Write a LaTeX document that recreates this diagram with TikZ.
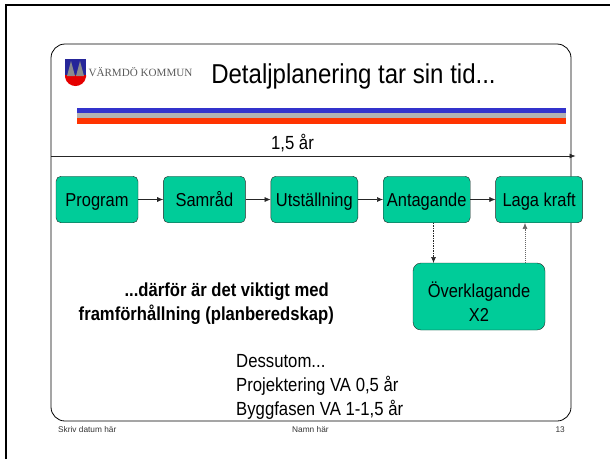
\documentclass[tikz,border=0pt]{standalone}
\usepackage{fontspec}
\setmainfont[FakeStretch=0.88]{Liberation Sans}
\newfontfamily\logofont{Liberation Serif}
\newfontfamily\footerfont{Liberation Sans}
\usetikzlibrary{positioning,arrows.meta}
\definecolor{etappgreen}{HTML}{00CC99}
\definecolor{stripeblue}{HTML}{3333CC}
\definecolor{stripegray}{HTML}{B2B2B2}
\definecolor{stripered}{HTML}{FF3300}

\begin{document}
\begin{tikzpicture}[x=1pt,y=-1pt,
      etapp/.style={draw=black!85, fill=etappgreen, rounded corners=5pt, minimum height=46.5pt, inner sep=0pt, text height=18pt, text depth=3.6pt, font=\fontsize{18.7}{24}\selectfont},
      flow/.style={draw=black!85, line width=0.6pt, -{Latex[length=6pt,width=5pt]}},
      textblock/.style={inner sep=0pt, font=\fontsize{19}{23.7}\selectfont},
      footer/.style={inner sep=0pt, text=black!80, font=\footerfont\fontsize{8.3}{10}\selectfont}]
    \useasboundingbox (0,0) rectangle (610,459);
    % outer frame and slide
    \draw[line width=2pt] (6,459) -- (6,5) -- (610,5);
    \draw[line width=0.8pt, rounded corners=14pt] (51,44) rectangle (571,421);
    % logo
    \fill[stripeblue!75!black] (65,59) -- (86,59) -- (86,75) -- (65,75) -- cycle;
    \fill[red!90!black] (65,75) -- (86,75) -- (86,77) .. controls (85,83) and (80,86) .. (75.5,86) .. controls (71,86) and (66,83) .. (65,77) -- cycle;
    \fill[black!45] (67,76) -- (71,61) -- (75,76) -- cycle;
    \fill[black!45] (76,76) -- (80,61) -- (84,76) -- cycle;
    \node[inner sep=0pt, text=black!65, font=\logofont\fontsize{11.1}{13}\selectfont] (kommun) at (140.5,72.5) {VÄRMDÖ KOMMUN};
    % title and stripes
    \node[inner sep=0pt, anchor=base, font=\fontsize{27.3}{32}\selectfont] (title) at (353.5,83) {Detaljplanering tar sin tid...};
    \fill[stripeblue] (77,108) rectangle (566,113);
    \fill[stripegray] (77,113) rectangle (566,118);
    \fill[stripered] (77,118) rectangle (566,123.5);
    % time line
    \coordinate (start) at (51,156);
    \coordinate (slut) at (575.5,156);
    \draw[flow] (start) -- (slut);
    \node[textblock, anchor=base] (tid) at (292.5,149) {1,5 år};
    % the steps
    \node[etapp, minimum width=82pt] (program) at (97,199.5) {Program};
    \node[etapp, minimum width=82pt, right=25pt of program] (samrad) {Samråd};
    \node[etapp, minimum width=87pt, right=25pt of samrad] (utstallning) {Utställning};
    \node[etapp, minimum width=87pt, right=25pt of utstallning] (antagande) {Antagande};
    \node[etapp, minimum width=87pt, right=25pt of antagande] (laga) {Laga kraft};
    \node[etapp, rounded corners=8pt, minimum width=132pt, minimum height=67pt, text height=, text depth=, align=center] (overklagande) at (479,296.5) {\rule{0pt}{26pt}Överklagande\\X2};
    \draw[flow] (program) -- (samrad);
    \draw[flow] (samrad) -- (utstallning);
    \draw[flow] (utstallning) -- (antagande);
    \draw[flow] (antagande) -- (laga);
    \coordinate (ner) at (433.5,263);
    \coordinate (upp) at (525,263);
    \draw[flow, dash pattern=on 1.5pt off 1pt] (antagande.south -| ner) -- (ner);
    \draw[flow, draw=black!60, dash pattern=on 1pt off 1pt] (upp) -- (laga.south -| upp);
    % texts
    \node[textblock, align=right, anchor=north east, font=\bfseries\fontsize{18.9}{23.7}\selectfont] (darfor) at (334,282.5) {...därför är det viktigt med\hspace*{5pt}\\framförhållning (planberedskap)};
    \node[textblock, align=left, anchor=north west] (dessutom) at (236,354.5) {Dessutom...\\Projektering VA 0,5 år\\Byggfasen VA 1-1,5 år};
    % footer
    \node[footer, anchor=west] (datum) at (58,430) {Skriv datum här};
    \node[footer, anchor=west] (namn) at (292,430) {Namn här};
    \node[footer, anchor=east] (sida) at (565,430) {13};
\end{tikzpicture}
\end{document}
